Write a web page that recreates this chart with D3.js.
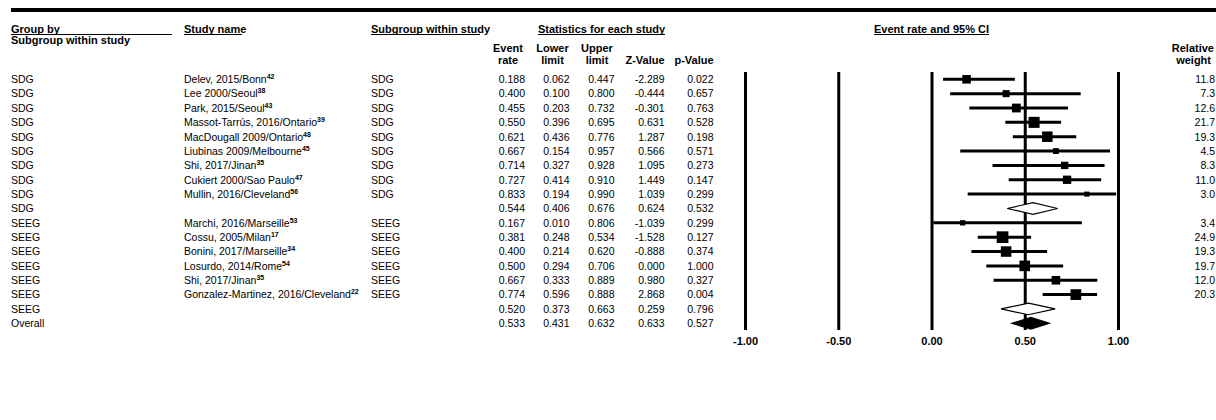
<!DOCTYPE html>
<html>
<head>
<meta charset="utf-8">
<script src="https://cdn.jsdelivr.net/npm/d3@7"></script>
<style>
  body { margin: 0; background: #fff; }
  svg text { font-family: "Liberation Sans", Arial, sans-serif; fill: #000; }
  .hdr { font-weight: bold; font-size: 11px; }
  .cell { font-size: 10.5px; }
</style>
</head>
<body>
<div id="chart"></div>
<script>
// rows of the forest plot (study rows, subgroup summaries, overall)
const groupBy = ["SDG","SDG","SDG","SDG","SDG","SDG","SDG","SDG","SDG","SDG",
  "SEEG","SEEG","SEEG","SEEG","SEEG","SEEG","SEEG","Overall"];
const studyNames = ["Delev, 2015/Bonn","Lee 2000/Seoul","Park, 2015/Seoul","Massot-Tarrús, 2016/Ontario",
  "MacDougall 2009/Ontario","Liubinas 2009/Melbourne","Shi, 2017/Jinan","Cukiert 2000/Sao Paulo",
  "Mullin, 2016/Cleveland","","Marchi, 2016/Marseille","Cossu, 2005/Milan","Bonini, 2017/Marseille",
  "Losurdo, 2014/Rome","Shi, 2017/Jinan","Gonzalez-Martinez, 2016/Cleveland","",""];
const refs = ["42","38","43","39","48","45","35","47","56","","53","17","34","54","35","22","",""];
const subgroups = ["SDG","SDG","SDG","SDG","SDG","SDG","SDG","SDG","SDG","",
  "SEEG","SEEG","SEEG","SEEG","SEEG","SEEG","",""];
const eventRate = [0.188,0.400,0.455,0.550,0.621,0.667,0.714,0.727,0.833,0.544,
  0.167,0.381,0.400,0.500,0.667,0.774,0.520,0.533];
const lowerLimit = [0.062,0.100,0.203,0.396,0.436,0.154,0.327,0.414,0.194,0.406,
  0.010,0.248,0.214,0.294,0.333,0.596,0.373,0.431];
const upperLimit = [0.447,0.800,0.732,0.695,0.776,0.957,0.928,0.910,0.990,0.676,
  0.806,0.534,0.620,0.706,0.889,0.888,0.663,0.632];
const zValue = [-2.289,-0.444,-0.301,0.631,1.287,0.566,1.095,1.449,1.039,0.624,
  -1.039,-1.528,-0.888,0.000,0.980,2.868,0.259,0.633];
const pValue = [0.022,0.657,0.763,0.528,0.198,0.571,0.273,0.147,0.299,0.532,
  0.299,0.127,0.374,1.000,0.327,0.004,0.796,0.527];
const relWeight = [11.8,7.3,12.6,21.7,19.3,4.5,8.3,11.0,3.0,null,
  3.4,24.9,19.3,19.7,12.0,20.3,null,null];
const rowKind = ["study","study","study","study","study","study","study","study","study","sub",
  "study","study","study","study","study","study","sub","overall"];
const axisTicks = [-1, -0.5, 0, 0.5, 1];

const width = 1216, height = 420;

const rows = groupBy.map(function(g, i) {
  return {
    i: i, group: g, study: studyNames[i], ref: refs[i], sub: subgroups[i],
    er: eventRate[i], lo: lowerLimit[i], hi: upperLimit[i],
    z: zValue[i], p: pValue[i], w: relWeight[i], kind: rowKind[i]
  };
});

// plain hyphen for negatives, like the original output
let locale = d3.formatLocale({ decimal: ".", thousands: ",", grouping: [3], currency: ["", ""], minus: "-" });
let fmt3 = locale.format(".3f");
let fmt2 = locale.format(".2f");
let fmt1 = locale.format(".1f");

let x = d3.scaleLinear().domain([-1, 1]).range([745, 1118]);
let y = d3.scalePoint().domain(d3.range(rows.length)).range([79.3, 323.3]);
let boxSize = d3.scaleSqrt().domain([0, 25]).range([1.5, 11.75]);

let svg = d3.select("#chart").append("svg")
  .attr("width", width)
  .attr("height", height);

// heavy rule at the top
svg.append("rect").attr("x", 11).attr("y", 8).attr("width", width - 11).attr("height", 4).attr("fill", "#000");

// ---- headers
function header(txt, tx, ty, anchor) {
  return svg.append("text").attr("class", "hdr").attr("x", tx).attr("y", ty)
    .attr("text-anchor", anchor || "start").text(txt);
}
function rule(x1, x2, ry) {
  svg.append("line").attr("x1", x1).attr("x2", x2).attr("y1", ry).attr("y2", ry)
    .attr("stroke", "#000").attr("stroke-width", 1);
}
header("Group by", 11, 32.5); rule(11, 172, 34.5);
header("Subgroup within study", 11, 44);
header("Study name", 184, 32.5); rule(184, 242, 34.5);
header("Subgroup within study", 371, 32.5); rule(371, 480, 34.5);
header("Statistics for each study", 538, 32.5); rule(538, 665, 34.5);
let ercHdr = header("Event rate and 95% CI", x(0), 32.5, "middle");
let ercW = ercHdr.node().getComputedTextLength();
rule(x(0) - ercW / 2, x(0) + ercW / 2, 34.5);

const statCols = [
  { key: "er", x: 525, h1: "Event", h2: "rate", hx: 508 },
  { key: "lo", x: 569.5, h1: "Lower", h2: "limit", hx: 552.5 },
  { key: "hi", x: 614.5, h1: "Upper", h2: "limit", hx: 597 },
  { key: "z", x: 664.5, h1: "", h2: "Z-Value", hx: 645 },
  { key: "p", x: 713.5, h1: "", h2: "p-Value", hx: 694 }
];
statCols.forEach(function(c) {
  if (c.h1) header(c.h1, c.hx, 52, "middle");
  header(c.h2, c.hx, 63.5, "middle");
});
header("Relative", 1214, 52, "end");
header("weight", 1211, 63.5, "end");

// ---- table text
let rowG = svg.selectAll(".row")
  .data(rows)
  .join("g")
  .attr("class", "row")
  .attr("transform", function(d) { return "translate(0," + (y(d.i) + 3.8) + ")"; });

rowG.append("text").attr("class", "cell").attr("x", 11).text(function(d) { return d.group; });

let studyT = rowG.append("text").attr("class", "cell").attr("x", 184);
studyT.append("tspan").text(function(d) { return d.study; });
studyT.filter(function(d) { return d.ref; })
  .append("tspan")
  .attr("dy", -4).attr("font-size", "7px").attr("font-weight", "bold")
  .text(function(d) { return d.ref; });

rowG.append("text").attr("class", "cell").attr("x", 371).text(function(d) { return d.sub; });

statCols.forEach(function(c) {
  rowG.append("text").attr("class", "cell").attr("x", c.x).attr("text-anchor", "end")
    .text(function(d) { return fmt3(d[c.key]); });
});

rowG.filter(function(d) { return d.w != null; })
  .append("text").attr("class", "cell").attr("x", 1215).attr("text-anchor", "end")
  .text(function(d) { return fmt1(d.w); });

// ---- plot: vertical reference lines via the axis
let lineTop = 72, lineBottom = 330;
let axis = d3.axisBottom(x)
  .tickValues(axisTicks)
  .tickFormat(fmt2)
  .tickSizeInner(-(lineBottom - lineTop))
  .tickSizeOuter(0)
  .tickPadding(7.5);

let axisG = svg.append("g")
  .attr("transform", "translate(0," + lineBottom + ")")
  .call(axis);
axisG.select(".domain").remove();
axisG.selectAll(".tick line").attr("stroke", "#000").attr("stroke-width", 3);
axisG.selectAll(".tick text")
  .attr("font-family", "'Liberation Sans', Arial, sans-serif")
  .attr("font-size", "11px").attr("font-weight", "bold").attr("fill", "#000");

// CI lines + boxes for studies
let studyRows = rows.filter(function(d) { return d.kind == "study"; });

svg.selectAll(".ci")
  .data(studyRows)
  .join("line")
  .attr("class", "ci")
  .attr("x1", function(d) { return x(d.lo); })
  .attr("x2", function(d) { return x(d.hi); })
  .attr("y1", function(d) { return y(d.i); })
  .attr("y2", function(d) { return y(d.i); })
  .attr("stroke", "#000")
  .attr("stroke-width", 3);

svg.selectAll(".box")
  .data(studyRows)
  .join("rect")
  .attr("class", "box")
  .attr("x", function(d) { return x(d.er) - boxSize(d.w) / 2; })
  .attr("y", function(d) { return y(d.i) - boxSize(d.w) / 2; })
  .attr("width", function(d) { return boxSize(d.w); })
  .attr("height", function(d) { return boxSize(d.w); })
  .attr("fill", "#000");

// summary diamonds
let sumRows = rows.filter(function(d) { return d.kind != "study"; });
svg.selectAll(".diamond")
  .data(sumRows)
  .join("path")
  .attr("class", "diamond")
  .attr("d", function(d) {
    let cy = y(d.i), h = 5.8;
    return "M" + x(d.lo) + "," + cy + "L" + x(d.er) + "," + (cy - h) +
      "L" + x(d.hi) + "," + cy + "L" + x(d.er) + "," + (cy + h) + "Z";
  })
  .attr("fill", function(d) { return d.kind == "overall" ? "#000" : "#fff"; })
  .attr("stroke", "#000")
  .attr("stroke-width", 1.2);
</script>
</body>
</html>
